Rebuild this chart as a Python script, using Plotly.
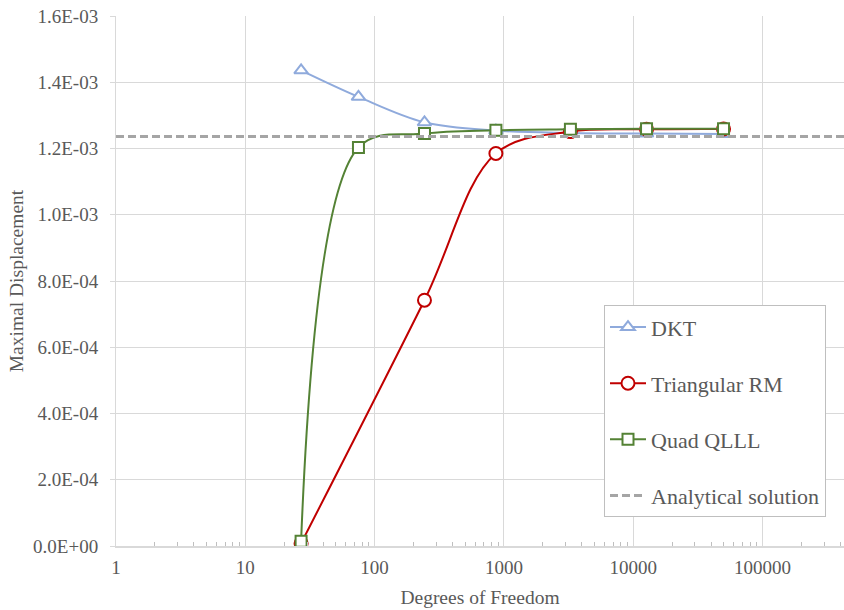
import numpy as np
import plotly.graph_objects as go

# Degrees of freedom for each mesh refinement
DOF_DKT = [27, 75, 243, 867, 3267, 12675, 49923]
DOF_RM = [27, 243, 867, 3267, 12675, 49923]
DOF_QLLL = [27, 75, 243, 867, 3267, 12675, 49923]

# Maximal displacement per element type
DISP_DKT = [1.436e-3, 1.356e-3, 1.279e-3, 1.254e-3, 1.247e-3, 1.245e-3, 1.244e-3]
DISP_RM = [0.008e-3, 0.742e-3, 1.185e-3, 1.251e-3, 1.258e-3, 1.259e-3]
DISP_QLLL = [0.014e-3, 1.203e-3, 1.245e-3, 1.255e-3, 1.258e-3, 1.260e-3, 1.260e-3]

ANALYTICAL = 1.236e-3
X_MIN, X_MAX = 1, 10 ** 5.63

Y_TICKS = [0.0, 0.2e-3, 0.4e-3, 0.6e-3, 0.8e-3, 1.0e-3, 1.2e-3, 1.4e-3, 1.6e-3]
Y_TICK_TEXT = ["0.0E+00", "2.0E-04", "4.0E-04", "6.0E-04", "8.0E-04",
               "1.0E-03", "1.2E-03", "1.4E-03", "1.6E-03"]
X_TICKS = [1, 10, 100, 1000, 10000, 100000]
X_TICK_TEXT = ["1", "10", "100", "1000", "10000", "100000"]

FONT = "Liberation Serif"
TEXT_COLOR = "#595959"
GRID = "#d9d9d9"

fig = go.Figure()

fig.add_trace(go.Scatter(
    x=DOF_DKT, y=DISP_DKT, name="DKT", legendgroup="dkt",
    mode="lines+markers", line=dict(color="#8FAADC", width=2, shape="spline", smoothing=1),
    marker=dict(symbol="triangle-up", size=12, color="white",
                line=dict(color="#8FAADC", width=2)),
))
fig.add_trace(go.Scatter(
    x=DOF_RM, y=DISP_RM, name="Triangular RM", legendgroup="rm",
    mode="lines+markers", line=dict(color="#C00000", width=2, shape="spline", smoothing=1),
    marker=dict(symbol="circle", size=13, color="white",
                line=dict(color="#C00000", width=2)),
))
fig.add_trace(go.Scatter(
    x=DOF_QLLL, y=DISP_QLLL, name="Quad QLLL", legendgroup="qlll",
    mode="lines+markers", line=dict(color="#548235", width=2, shape="spline", smoothing=1),
    marker=dict(symbol="square", size=11, color="white",
                line=dict(color="#548235", width=2)),
))
fig.add_trace(go.Scatter(
    x=[X_MIN, X_MAX], y=[ANALYTICAL, ANALYTICAL], name="Analytical solution",
    legendgroup="ana", mode="lines",
    line=dict(color="#A5A5A5", width=3, dash="8px,4px"),
))

minor_vals = [m * 10 ** d for d in range(0, 6) for m in range(2, 10)]

fig.update_layout(
    width=844, height=610,
    margin=dict(l=116, r=0, t=16, b=64),
    paper_bgcolor="white", plot_bgcolor="white",
    font=dict(family=FONT, size=19, color=TEXT_COLOR),
    showlegend=True,
    legend=dict(
        x=(604 - 116) / 728, y=(545.7 - 305) / 530, xanchor="left", yanchor="top",
        bgcolor="white", bordercolor="#bfbfbf", borderwidth=1,
        font=dict(family=FONT, size=22, color=TEXT_COLOR),
        tracegroupgap=24.5, itemwidth=36,
    ),
    xaxis=dict(
        type="log", range=[np.log10(X_MIN), np.log10(X_MAX)],
        tickmode="array", tickvals=X_TICKS, ticktext=X_TICK_TEXT,
        showgrid=True, gridcolor=GRID, gridwidth=1,
        showline=True, linecolor=GRID, linewidth=1.5,
        ticks="", zeroline=False, ticklabelstandoff=3,
        minor=dict(tickmode="array", tickvals=minor_vals, ticks="inside",
                   ticklen=4, tickcolor="#bfbfbf", showgrid=False),
        title=dict(text="Degrees of Freedom", font=dict(size=19.5), standoff=14),
        tickfont=dict(size=19),
    ),
    yaxis=dict(
        range=[0, 1.6e-3],
        tickmode="array", tickvals=Y_TICKS, ticktext=Y_TICK_TEXT,
        showgrid=True, gridcolor=GRID, gridwidth=1,
        showline=True, linecolor=GRID, linewidth=1,
        ticks="outside", ticklen=5, tickcolor=GRID, zeroline=False,
        ticklabelstandoff=8,
        title=dict(text="Maximal Displacement", font=dict(size=19.5), standoff=4),
        tickfont=dict(size=19),
    ),
)

fig.write_html("out.html")
